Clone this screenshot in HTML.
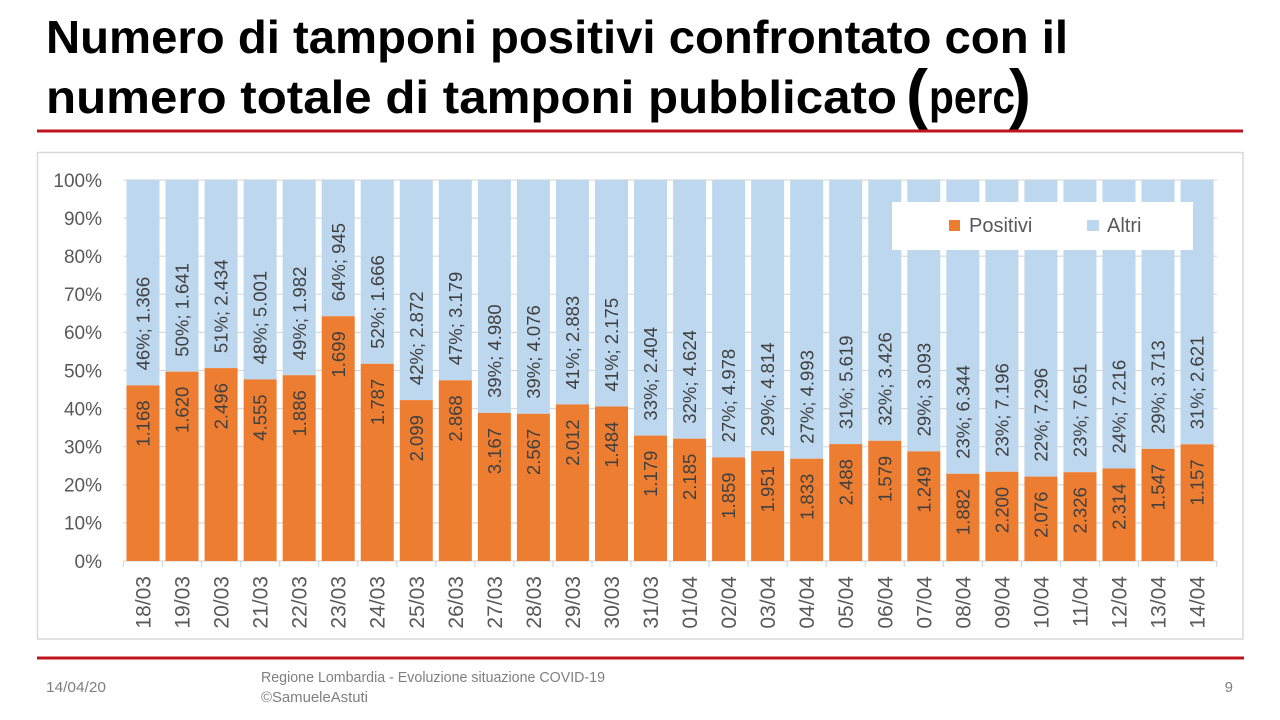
<!DOCTYPE html>
<html><head><meta charset="utf-8"><style>
html,body{margin:0;padding:0;background:#fff;}
svg{display:block;}
.t{font-family:"Liberation Sans",Arial,sans-serif;}
.dl{font-family:"Liberation Sans",Arial,sans-serif;font-size:18.5px;fill:#404040;}
.cl{font-family:"Liberation Sans",Arial,sans-serif;font-size:21px;fill:#595959;}
.yl{font-family:"Liberation Sans",Arial,sans-serif;font-size:19px;fill:#595959;}
</style></head><body>
<svg width="1280" height="720" viewBox="0 0 1280 720" xmlns="http://www.w3.org/2000/svg">
<rect x="0" y="0" width="1280" height="720" fill="#fff"/>
<!-- Title -->
<g class="t" font-weight="bold" fill="#000">
<text x="46" y="53" font-size="46" textLength="1022" lengthAdjust="spacingAndGlyphs">Numero di tamponi positivi confrontato con il</text>
<text x="46" y="113" font-size="46" textLength="851" lengthAdjust="spacingAndGlyphs">numero totale di tamponi pubblicato</text>
<text x="906" y="116" font-size="66">(</text>
<text x="929" y="113" font-size="46" textLength="86" lengthAdjust="spacingAndGlyphs">perc</text>
<text x="1009" y="116" font-size="66">)</text>
</g>
<rect x="37" y="129.5" width="1206" height="3" fill="#C0141C"/>
<!-- Chart frame -->
<rect x="37.5" y="152.5" width="1205.5" height="486.5" fill="#fff" stroke="#d9d9d9" stroke-width="1.5"/>
<!-- gridlines -->
<g stroke="#d9d9d9" stroke-width="1.2">
<line x1="123.5" x2="1217" y1="180" y2="180"/>
<line x1="123.5" x2="1217" y1="218.1" y2="218.1"/>
<line x1="123.5" x2="1217" y1="256.2" y2="256.2"/>
<line x1="123.5" x2="1217" y1="294.3" y2="294.3"/>
<line x1="123.5" x2="1217" y1="332.4" y2="332.4"/>
<line x1="123.5" x2="1217" y1="370.5" y2="370.5"/>
<line x1="123.5" x2="1217" y1="408.6" y2="408.6"/>
<line x1="123.5" x2="1217" y1="446.7" y2="446.7"/>
<line x1="123.5" x2="1217" y1="484.8" y2="484.8"/>
<line x1="123.5" x2="1217" y1="522.9" y2="522.9"/>
<line x1="123.5" x2="1217" y1="561" y2="561"/>
</g>
<!-- y labels -->
<g class="yl" text-anchor="end">
<text x="102" y="186.8">100%</text>
<text x="102" y="224.9">90%</text>
<text x="102" y="263">80%</text>
<text x="102" y="301.1">70%</text>
<text x="102" y="339.2">60%</text>
<text x="102" y="377.3">50%</text>
<text x="102" y="415.4">40%</text>
<text x="102" y="453.5">30%</text>
<text x="102" y="491.6">20%</text>
<text x="102" y="529.7">10%</text>
<text x="102" y="567.8">0%</text>
</g>
<!-- bars: blue (Altri) -->
<g fill="#BDD7EE">
<rect x="126.5" y="180" width="33" height="205.4"/>
<rect x="165.54" y="180" width="33" height="191.7"/>
<rect x="204.58" y="180" width="33" height="188.1"/>
<rect x="243.62" y="180" width="33" height="199.4"/>
<rect x="282.66" y="180" width="33" height="195.2"/>
<rect x="321.7" y="180" width="33" height="136.2"/>
<rect x="360.74" y="180" width="33" height="183.8"/>
<rect x="399.78" y="180" width="33" height="220.1"/>
<rect x="438.82" y="180" width="33" height="200.3"/>
<rect x="477.86" y="180" width="33" height="232.9"/>
<rect x="516.9" y="180" width="33" height="233.8"/>
<rect x="555.94" y="180" width="33" height="224.4"/>
<rect x="594.98" y="180" width="33" height="226.5"/>
<rect x="634.02" y="180" width="33" height="255.6"/>
<rect x="673.06" y="180" width="33" height="258.7"/>
<rect x="712.1" y="180" width="33" height="277.4"/>
<rect x="751.14" y="180" width="33" height="271.1"/>
<rect x="790.18" y="180" width="33" height="278.7"/>
<rect x="829.22" y="180" width="33" height="264.1"/>
<rect x="868.26" y="180" width="33" height="260.8"/>
<rect x="907.3" y="180" width="33" height="271.4"/>
<rect x="946.34" y="180" width="33" height="293.8"/>
<rect x="985.38" y="180" width="33" height="291.8"/>
<rect x="1024.42" y="180" width="33" height="296.6"/>
<rect x="1063.46" y="180" width="33" height="292.2"/>
<rect x="1102.5" y="180" width="33" height="288.5"/>
<rect x="1141.54" y="180" width="33" height="268.9"/>
<rect x="1180.58" y="180" width="33" height="264.3"/>
</g>
<!-- bars: orange (Positivi) -->
<g fill="#ED7D31">
<rect x="126.5" y="385.4" width="33" height="175.6"/>
<rect x="165.54" y="371.7" width="33" height="189.3"/>
<rect x="204.58" y="368.1" width="33" height="192.9"/>
<rect x="243.62" y="379.4" width="33" height="181.6"/>
<rect x="282.66" y="375.2" width="33" height="185.8"/>
<rect x="321.7" y="316.2" width="33" height="244.8"/>
<rect x="360.74" y="363.8" width="33" height="197.2"/>
<rect x="399.78" y="400.1" width="33" height="160.9"/>
<rect x="438.82" y="380.3" width="33" height="180.7"/>
<rect x="477.86" y="412.9" width="33" height="148.1"/>
<rect x="516.9" y="413.8" width="33" height="147.2"/>
<rect x="555.94" y="404.4" width="33" height="156.6"/>
<rect x="594.98" y="406.5" width="33" height="154.5"/>
<rect x="634.02" y="435.6" width="33" height="125.4"/>
<rect x="673.06" y="438.7" width="33" height="122.3"/>
<rect x="712.1" y="457.4" width="33" height="103.6"/>
<rect x="751.14" y="451.1" width="33" height="109.9"/>
<rect x="790.18" y="458.7" width="33" height="102.3"/>
<rect x="829.22" y="444.1" width="33" height="116.9"/>
<rect x="868.26" y="440.8" width="33" height="120.2"/>
<rect x="907.3" y="451.4" width="33" height="109.6"/>
<rect x="946.34" y="473.8" width="33" height="87.2"/>
<rect x="985.38" y="471.8" width="33" height="89.2"/>
<rect x="1024.42" y="476.6" width="33" height="84.4"/>
<rect x="1063.46" y="472.2" width="33" height="88.8"/>
<rect x="1102.5" y="468.5" width="33" height="92.5"/>
<rect x="1141.54" y="448.9" width="33" height="112.1"/>
<rect x="1180.58" y="444.3" width="33" height="116.7"/>
</g>
<!-- x axis ticks -->
<g stroke="#d9d9d9" stroke-width="1.2">
<line x1="123.5" x2="123.5" y1="561" y2="567"/><line x1="162.54" x2="162.54" y1="561" y2="567"/><line x1="201.58" x2="201.58" y1="561" y2="567"/><line x1="240.62" x2="240.62" y1="561" y2="567"/><line x1="279.66" x2="279.66" y1="561" y2="567"/><line x1="318.7" x2="318.7" y1="561" y2="567"/><line x1="357.74" x2="357.74" y1="561" y2="567"/><line x1="396.78" x2="396.78" y1="561" y2="567"/><line x1="435.82" x2="435.82" y1="561" y2="567"/><line x1="474.86" x2="474.86" y1="561" y2="567"/><line x1="513.9" x2="513.9" y1="561" y2="567"/><line x1="552.94" x2="552.94" y1="561" y2="567"/><line x1="591.98" x2="591.98" y1="561" y2="567"/><line x1="631.02" x2="631.02" y1="561" y2="567"/><line x1="670.06" x2="670.06" y1="561" y2="567"/><line x1="709.1" x2="709.1" y1="561" y2="567"/><line x1="748.14" x2="748.14" y1="561" y2="567"/><line x1="787.18" x2="787.18" y1="561" y2="567"/><line x1="826.22" x2="826.22" y1="561" y2="567"/><line x1="865.26" x2="865.26" y1="561" y2="567"/><line x1="904.3" x2="904.3" y1="561" y2="567"/><line x1="943.34" x2="943.34" y1="561" y2="567"/><line x1="982.38" x2="982.38" y1="561" y2="567"/><line x1="1021.42" x2="1021.42" y1="561" y2="567"/><line x1="1060.46" x2="1060.46" y1="561" y2="567"/><line x1="1099.5" x2="1099.5" y1="561" y2="567"/><line x1="1138.54" x2="1138.54" y1="561" y2="567"/><line x1="1177.58" x2="1177.58" y1="561" y2="567"/><line x1="1216.62" x2="1216.62" y1="561" y2="567"/>
</g>
<!-- blue data labels -->
<g class="dl">
<text transform="translate(149.6,370.4) rotate(-90)">46%; 1.366</text>
<text transform="translate(188.64,356.7) rotate(-90)">50%; 1.641</text>
<text transform="translate(227.68,353.1) rotate(-90)">51%; 2.434</text>
<text transform="translate(266.72,364.4) rotate(-90)">48%; 5.001</text>
<text transform="translate(305.76,360.2) rotate(-90)">49%; 1.982</text>
<text transform="translate(344.8,301.2) rotate(-90)">64%; 945</text>
<text transform="translate(383.84,348.8) rotate(-90)">52%; 1.666</text>
<text transform="translate(422.88,385.1) rotate(-90)">42%; 2.872</text>
<text transform="translate(461.92,365.3) rotate(-90)">47%; 3.179</text>
<text transform="translate(500.96,397.9) rotate(-90)">39%; 4.980</text>
<text transform="translate(540,398.8) rotate(-90)">39%; 4.076</text>
<text transform="translate(579.04,389.4) rotate(-90)">41%; 2.883</text>
<text transform="translate(618.08,391.5) rotate(-90)">41%; 2.175</text>
<text transform="translate(657.12,420.6) rotate(-90)">33%; 2.404</text>
<text transform="translate(696.16,423.7) rotate(-90)">32%; 4.624</text>
<text transform="translate(735.2,442.4) rotate(-90)">27%; 4.978</text>
<text transform="translate(774.24,436.1) rotate(-90)">29%; 4.814</text>
<text transform="translate(813.28,443.7) rotate(-90)">27%; 4.993</text>
<text transform="translate(852.32,429.1) rotate(-90)">31%; 5.619</text>
<text transform="translate(891.36,425.8) rotate(-90)">32%; 3.426</text>
<text transform="translate(930.4,436.4) rotate(-90)">29%; 3.093</text>
<text transform="translate(969.44,458.8) rotate(-90)">23%; 6.344</text>
<text transform="translate(1008.48,456.8) rotate(-90)">23%; 7.196</text>
<text transform="translate(1047.52,461.6) rotate(-90)">22%; 7.296</text>
<text transform="translate(1086.56,457.2) rotate(-90)">23%; 7.651</text>
<text transform="translate(1125.6,453.5) rotate(-90)">24%; 7.216</text>
<text transform="translate(1164.64,433.9) rotate(-90)">29%; 3.713</text>
<text transform="translate(1203.68,429.3) rotate(-90)">31%; 2.621</text>
</g>
<!-- orange data labels -->
<g class="dl" text-anchor="end">
<text transform="translate(149.6,400.4) rotate(-90)">1.168</text>
<text transform="translate(188.64,386.7) rotate(-90)">1.620</text>
<text transform="translate(227.68,383.1) rotate(-90)">2.496</text>
<text transform="translate(266.72,394.4) rotate(-90)">4.555</text>
<text transform="translate(305.76,390.2) rotate(-90)">1.886</text>
<text transform="translate(344.8,331.2) rotate(-90)">1.699</text>
<text transform="translate(383.84,378.8) rotate(-90)">1.787</text>
<text transform="translate(422.88,415.1) rotate(-90)">2.099</text>
<text transform="translate(461.92,395.3) rotate(-90)">2.868</text>
<text transform="translate(500.96,427.9) rotate(-90)">3.167</text>
<text transform="translate(540,428.8) rotate(-90)">2.567</text>
<text transform="translate(579.04,419.4) rotate(-90)">2.012</text>
<text transform="translate(618.08,421.5) rotate(-90)">1.484</text>
<text transform="translate(657.12,450.6) rotate(-90)">1.179</text>
<text transform="translate(696.16,453.7) rotate(-90)">2.185</text>
<text transform="translate(735.2,472.4) rotate(-90)">1.859</text>
<text transform="translate(774.24,466.1) rotate(-90)">1.951</text>
<text transform="translate(813.28,473.7) rotate(-90)">1.833</text>
<text transform="translate(852.32,459.1) rotate(-90)">2.488</text>
<text transform="translate(891.36,455.8) rotate(-90)">1.579</text>
<text transform="translate(930.4,466.4) rotate(-90)">1.249</text>
<text transform="translate(969.44,488.8) rotate(-90)">1.882</text>
<text transform="translate(1008.48,486.8) rotate(-90)">2.200</text>
<text transform="translate(1047.52,491.6) rotate(-90)">2.076</text>
<text transform="translate(1086.56,487.2) rotate(-90)">2.326</text>
<text transform="translate(1125.6,483.5) rotate(-90)">2.314</text>
<text transform="translate(1164.64,463.9) rotate(-90)">1.547</text>
<text transform="translate(1203.68,459.3) rotate(-90)">1.157</text>
</g>
<!-- category labels -->
<g class="cl" text-anchor="end">
<text transform="translate(150.5,576) rotate(-90)">18/03</text>
<text transform="translate(189.54,576) rotate(-90)">19/03</text>
<text transform="translate(228.58,576) rotate(-90)">20/03</text>
<text transform="translate(267.62,576) rotate(-90)">21/03</text>
<text transform="translate(306.66,576) rotate(-90)">22/03</text>
<text transform="translate(345.7,576) rotate(-90)">23/03</text>
<text transform="translate(384.74,576) rotate(-90)">24/03</text>
<text transform="translate(423.78,576) rotate(-90)">25/03</text>
<text transform="translate(462.82,576) rotate(-90)">26/03</text>
<text transform="translate(501.86,576) rotate(-90)">27/03</text>
<text transform="translate(540.9,576) rotate(-90)">28/03</text>
<text transform="translate(579.94,576) rotate(-90)">29/03</text>
<text transform="translate(618.98,576) rotate(-90)">30/03</text>
<text transform="translate(658.02,576) rotate(-90)">31/03</text>
<text transform="translate(697.06,576) rotate(-90)">01/04</text>
<text transform="translate(736.1,576) rotate(-90)">02/04</text>
<text transform="translate(775.14,576) rotate(-90)">03/04</text>
<text transform="translate(814.18,576) rotate(-90)">04/04</text>
<text transform="translate(853.22,576) rotate(-90)">05/04</text>
<text transform="translate(892.26,576) rotate(-90)">06/04</text>
<text transform="translate(931.3,576) rotate(-90)">07/04</text>
<text transform="translate(970.34,576) rotate(-90)">08/04</text>
<text transform="translate(1009.38,576) rotate(-90)">09/04</text>
<text transform="translate(1048.42,576) rotate(-90)">10/04</text>
<text transform="translate(1087.46,576) rotate(-90)">11/04</text>
<text transform="translate(1126.5,576) rotate(-90)">12/04</text>
<text transform="translate(1165.54,576) rotate(-90)">13/04</text>
<text transform="translate(1204.58,576) rotate(-90)">14/04</text>
</g>
<!-- legend -->
<rect x="892" y="202" width="301" height="48" fill="#fff"/>
<rect x="949" y="220" width="11" height="11" fill="#ED7D31"/>
<text x="969" y="232" class="t" font-size="20" fill="#595959">Positivi</text>
<rect x="1087" y="220" width="12" height="11" fill="#BDD7EE"/>
<text x="1107" y="232" class="t" font-size="20" fill="#595959">Altri</text>
<!-- footer -->
<rect x="37" y="656.5" width="1207" height="3" fill="#C0141C"/>
<text x="46" y="692" class="t" font-size="15" fill="#7f7f7f" textLength="60" lengthAdjust="spacingAndGlyphs">14/04/20</text>
<text x="261" y="682" class="t" font-size="15" fill="#7f7f7f" textLength="344" lengthAdjust="spacingAndGlyphs">Regione Lombardia - Evoluzione situazione COVID-19</text>
<text x="261" y="702" class="t" font-size="15" fill="#7f7f7f" textLength="107" lengthAdjust="spacingAndGlyphs">©SamueleAstuti</text>
<text x="1233" y="692" class="t" font-size="15" fill="#7f7f7f" text-anchor="end">9</text>
</svg>
</body></html>
